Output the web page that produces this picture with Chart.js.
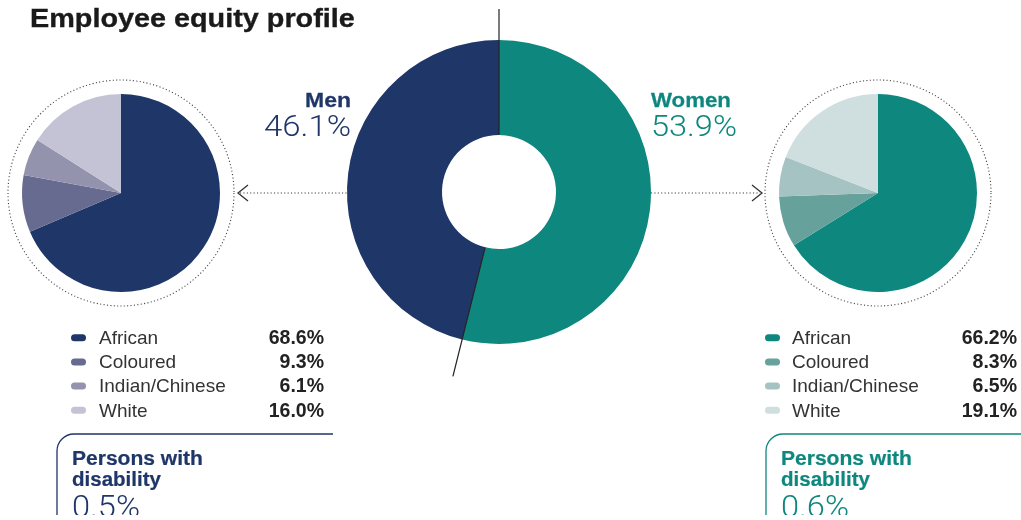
<!DOCTYPE html>
<html><head><meta charset="utf-8">
<script src="https://cdn.jsdelivr.net/npm/chart.js@4.4.1/dist/chart.umd.min.js"></script>
<style>
html,body{margin:0;padding:0;background:#fff;width:1021px;height:520px;overflow:hidden;}
#stage{position:relative;width:1021px;height:515px;overflow:hidden;background:#fff;}
canvas,svg{position:absolute;left:0;top:0;}
</style></head>
<body>
<div id="stage">
<canvas id="cLeft" width="1021" height="520"></canvas>
<canvas id="cRight" width="1021" height="520"></canvas>
<canvas id="cCenter" width="1021" height="520"></canvas>
<svg id="ov" width="1021" height="520" xmlns="http://www.w3.org/2000/svg"></svg>
</div>
<script>
// ---- data ----
const titleText = 'Employee equity profile';
const genderLabels = ['Women', 'Men'];
const genderValues = [53.9, 46.1];
const raceLabels = ['African', 'Coloured', 'Indian/Chinese', 'White'];
const menRaceValues = [68.6, 9.3, 6.1, 16.0];
const womenRaceValues = [66.2, 8.3, 6.5, 19.1];
const disabilityLabel = ['Persons with', 'disability'];
const menDisability = 0.5;
const womenDisability = 0.6;

// ---- styles ----
const NAVY = '#1f3668', TEAL = '#0e877e';
const menColors = ['#1f3668', '#686b90', '#9393ae', '#c4c3d6'];
const womenColors = ['#0e877e', '#67a19c', '#a6c3c3', '#cfdede'];
const SANS = "'Liberation Sans', Arial, Helvetica, sans-serif";
const LIGHT = "Roboto, Lato, 'Open Sans', 'Liberation Sans', sans-serif";

function pct(v){ return v.toFixed(1) + '%'; }

const dottedRing = {
  id: 'dottedRing',
  afterDatasetsDraw(chart){
    const a = chart.getDatasetMeta(0).data[0];
    const ctx = chart.ctx;
    ctx.save();
    ctx.beginPath();
    ctx.setLineDash([1.1, 2.3]);
    ctx.lineWidth = 1.1;
    ctx.strokeStyle = '#444';
    ctx.arc(a.x, a.y, a.outerRadius + 14, 0, Math.PI * 2);
    ctx.stroke();
    ctx.restore();
  }
};

function makePie(id, values, colors, pad){
  return new Chart(document.getElementById(id), {
    type: 'pie',
    data: { labels: raceLabels, datasets: [{ data: values, backgroundColor: colors, borderWidth: 0, hoverOffset: 0 }] },
    options: {
      responsive: false, animation: false, events: [],
      layout: { padding: pad },
      plugins: { legend: { display: false }, tooltip: { enabled: false } }
    },
    plugins: [dottedRing]
  });
}

const leftPie = makePie('cLeft', menRaceValues, menColors, { left: 22, right: 801, top: 94, bottom: 228 });
const rightPie = makePie('cRight', womenRaceValues, womenColors, { left: 779, right: 44, top: 94, bottom: 228 });

const connectors = {
  id: 'connectors',
  afterDatasetsDraw(chart){
    const ctx = chart.ctx;
    const c = chart.getDatasetMeta(0).data[0];
    const bounds = [c.startAngle, c.endAngle];
    const lens = [183, 190];
    ctx.save();
    ctx.strokeStyle = '#222';
    ctx.lineWidth = 1.2;
    bounds.forEach((ang, i) => {
      ctx.beginPath();
      ctx.moveTo(c.x + Math.cos(ang) * c.innerRadius, c.y + Math.sin(ang) * c.innerRadius);
      ctx.lineTo(c.x + Math.cos(ang) * lens[i], c.y + Math.sin(ang) * lens[i]);
      ctx.stroke();
    });
    const lp = leftPie.getDatasetMeta(0).data[0];
    const rp = rightPie.getDatasetMeta(0).data[0];
    const lt = lp.x + lp.outerRadius + 18, ly = lp.y;
    const rt = rp.x - rp.outerRadius - 17, ry = rp.y;
    ctx.strokeStyle = '#333';
    ctx.lineWidth = 1.1;
    ctx.setLineDash([1.1, 2.3]);
    ctx.beginPath(); ctx.moveTo(lt + 2, ly); ctx.lineTo(c.x - c.outerRadius, ly); ctx.stroke();
    ctx.beginPath(); ctx.moveTo(c.x + c.outerRadius, ry); ctx.lineTo(rt - 2, ry); ctx.stroke();
    ctx.setLineDash([]);
    ctx.lineWidth = 1.3;
    ctx.beginPath(); ctx.moveTo(lt + 10, ly - 8); ctx.lineTo(lt, ly); ctx.lineTo(lt + 10, ly + 8); ctx.stroke();
    ctx.beginPath(); ctx.moveTo(rt - 10, ry - 8); ctx.lineTo(rt, ry); ctx.lineTo(rt - 10, ry + 8); ctx.stroke();
    ctx.restore();
  }
};

const centerChart = new Chart(document.getElementById('cCenter'), {
  type: 'doughnut',
  data: { labels: genderLabels, datasets: [{ data: genderValues, backgroundColor: [TEAL, NAVY], borderWidth: 0, hoverOffset: 0 }] },
  options: {
    responsive: false, animation: false, events: [], cutout: '37.5%',
    layout: { padding: { left: 347, right: 370, top: 40, bottom: 176 } },
    plugins: { legend: { display: false }, tooltip: { enabled: false } }
  },
  plugins: [connectors]
});

// ---- text overlay ----
const NS = 'http://www.w3.org/2000/svg';
const ov = document.getElementById('ov');
function el(tag, attrs, txt){
  const e = document.createElementNS(NS, tag);
  for (const k in attrs) e.setAttribute(k, attrs[k]);
  if (txt !== undefined) e.textContent = txt;
  ov.appendChild(e);
  return e;
}
function text(x, y, s, o){
  const a = { x: x, y: y, 'font-family': o.family || SANS, 'font-size': o.size, 'font-weight': o.weight || 400,
              fill: o.color || '#333', 'text-anchor': o.anchor || 'start' };
  if (o.stroke){ a.stroke = o.color; a['stroke-width'] = o.stroke; }
  const e = el('text', a, s);
  if (o.width){
    const w = e.getComputedTextLength();
    if (w > 0){
      const k = o.width / w;
      e.setAttribute('transform', `translate(${x} ${y}) scale(${k} 1) translate(${-x} ${-y})`);
    }
  }
  return e;
}

text(30, 27, titleText, { size: 25.5, weight: 700, color: '#1a1a1a', width: 325, stroke: 0.35 });

const menIdx = genderLabels.indexOf('Men'), womenIdx = genderLabels.indexOf('Women');
text(351, 107.5, genderLabels[menIdx], { size: 20.5, weight: 700, color: NAVY, anchor: 'end', width: 46, stroke: 0.25 });
text(351, 136, pct(genderValues[menIdx]), { size: 29, weight: 300, family: LIGHT, color: NAVY, anchor: 'end', width: 87 });
text(651, 107.5, genderLabels[womenIdx], { size: 20.5, weight: 700, color: TEAL, width: 80, stroke: 0.25 });
text(651, 136, pct(genderValues[womenIdx]), { size: 29, weight: 300, family: LIGHT, color: TEAL, width: 86 });

function legend(swX, txX, valX, values, colors){
  raceLabels.forEach((lab, i) => {
    const base = 344 + i * 24.2;
    el('rect', { x: swX, y: base - 9.8, width: 15, height: 7, rx: 3.5, ry: 3.5, fill: colors[i] });
    text(txX, base, lab, { size: 19, color: '#333' });
    text(valX, base, pct(values[i]), { size: 19.5, weight: 700, color: '#222', anchor: 'end' });
  });
}
legend(71, 99, 324, menRaceValues, menColors);
legend(765, 792, 1017, womenRaceValues, womenColors);

function box(x, right, color, value){
  el('path', { d: `M${x} 540 V451 A17 17 0 0 1 ${x + 17} 434 H${right}`, fill: 'none', stroke: color, 'stroke-width': 1.3 });
  text(x + 15, 465, disabilityLabel[0], { size: 20, weight: 700, color: color, width: 131, stroke: 0.2 });
  text(x + 15, 486, disabilityLabel[1], { size: 20, weight: 700, color: color, width: 89, stroke: 0.2 });
  text(x + 15, 517.5, pct(value), { size: 31, weight: 300, family: LIGHT, color: color, width: 68 });
}
box(57, 333, NAVY, menDisability);
box(766, 1030, TEAL, womenDisability);
</script>
</body></html>
